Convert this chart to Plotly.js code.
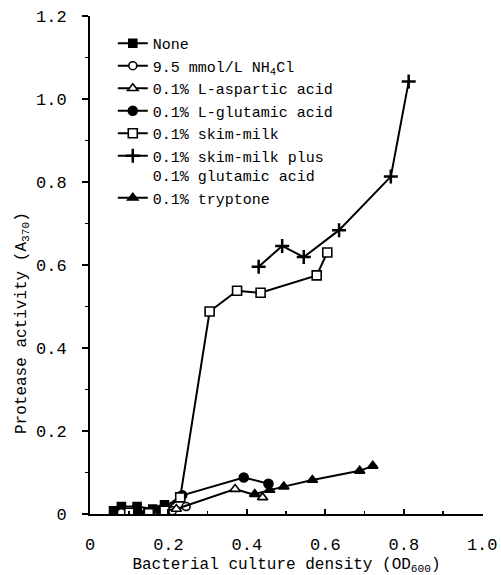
<!DOCTYPE html>
<html>
<head>
<meta charset="utf-8">
<script src="https://cdn.plot.ly/plotly-3.0.1.min.js"></script>
<style>html,body{margin:0;padding:0;background:#fff;}</style>
</head>
<body>
<div id="chart" style="width:501px;height:575px;"></div>
<script>
// Series names
const seriesNames = [
  "None",
  "9.5 mmol/L NH<sub>4</sub>Cl",
  "0.1% L-aspartic acid",
  "0.1% L-glutamic acid",
  "0.1% skim-milk",
  "0.1% skim-milk plus<br>0.1% glutamic acid",
  "0.1% tryptone"
];

// Data
const noneX = [0.06, 0.08, 0.12, 0.16, 0.19];
const noneY = [0.008, 0.018, 0.018, 0.012, 0.022];

const nh4clX = [0.08, 0.12, 0.15, 0.21, 0.245];
const nh4clY = [0.003, 0.002, 0.004, 0.008, 0.018];

const aspX = [0.10, 0.14, 0.22, 0.37, 0.44];
const aspY = [0.002, 0.003, 0.012, 0.060, 0.040];

const gluX = [0.12, 0.18, 0.235, 0.392, 0.455];
const gluY = [0.005, 0.010, 0.045, 0.088, 0.073];

const skimX = [0.10, 0.15, 0.19, 0.23, 0.305, 0.375, 0.435, 0.578, 0.605];
const skimY = [0.003, 0.002, 0.008, 0.040, 0.488, 0.538, 0.533, 0.575, 0.630];

const skimGluX = [0.43, 0.49, 0.545, 0.635, 0.767, 0.8125];
const skimGluY = [0.596, 0.646, 0.619, 0.684, 0.813, 1.042];

const tryX = [0.42, 0.458, 0.494, 0.567, 0.6875, 0.721];
const tryY = [0.048, 0.058, 0.066, 0.082, 0.104, 0.116];

const xTickVals = [0, 0.2, 0.4, 0.6, 0.8, 1.0];
const xTickText = ["0", "0.2", "0.4", "0.6", "0.8", "1.0"];
const yTickVals = [0, 0.2, 0.4, 0.6, 0.8, 1.0, 1.2];
const yTickText = ["0", "0.2", "0.4", "0.6", "0.8", "1.0", "1.2"];

const FONT = "Liberation Mono, DejaVu Sans Mono, monospace";

function tr(x, y, name, symbol, fill, size) {
  return {
    x: x, y: y, name: name, type: "scatter", mode: "lines+markers",
    line: {color: "#000", width: 2},
    marker: {symbol: symbol, size: size || 8, color: fill,
             line: {color: "#000", width: 1.6}}
  };
}

const traces = [
  tr(noneX, noneY, seriesNames[0], "square", "#000", 8),
  tr(nh4clX, nh4clY, seriesNames[1], "circle", "#fff", 8),
  tr(aspX, aspY, seriesNames[2], "triangle-up", "#fff", 9),
  tr(gluX, gluY, seriesNames[3], "circle", "#000", 9),
  tr(skimX, skimY, seriesNames[4], "square", "#fff", 9),
  tr(skimGluX, skimGluY, seriesNames[5], "cross-thin-open", "#000", 10),
  tr(tryX, tryY, seriesNames[6], "triangle-up", "#000", 9)
];
traces[5].marker.line.width = 2.5;

const layout = {
  width: 501, height: 575,
  margin: {l: 90, r: 18, t: 16, b: 61},
  paper_bgcolor: "#fff", plot_bgcolor: "#fff",
  font: {family: FONT, color: "#000", size: 16},
  showlegend: true,
  legend: {
    x: 0.058, y: 0.978, xanchor: "left", yanchor: "top",
    bgcolor: "rgba(0,0,0,0)", borderwidth: 0,
    font: {family: FONT, size: 15, color: "#000"},
    valign: "top", itemwidth: 30
  },
  xaxis: {
    range: [0, 1.002], showgrid: false, zeroline: false,
    showline: true, linecolor: "#000", linewidth: 2,
    tickmode: "array", tickvals: xTickVals, ticktext: xTickText,
    ticks: "inside", ticklen: 5, tickwidth: 2, tickcolor: "#000",
    minor: {tickmode: "linear", dtick: 0.1, ticks: "inside", ticklen: 3, tickwidth: 1.5, tickcolor: "#000"},
    tickfont: {family: FONT, size: 17},
    ticklabelstandoff: 14,
    ticklabeloverflow: "allow",
    title: {text: "Bacterial culture density (OD<sub>600</sub>)", font: {family: FONT, size: 16}, standoff: 6}
  },
  yaxis: {
    range: [0, 1.2], showgrid: false, zeroline: false,
    showline: true, linecolor: "#000", linewidth: 2,
    tickmode: "array", tickvals: yTickVals, ticktext: yTickText,
    ticks: "outside", ticklen: 6, tickwidth: 2, tickcolor: "#000",
    minor: {tickmode: "linear", dtick: 0.1, ticks: "outside", ticklen: 3, tickwidth: 1.5, tickcolor: "#000"},
    tickfont: {family: FONT, size: 17},
    ticklabelstandoff: 12,
    ticklabeloverflow: "allow"
  },
  annotations: [{
    text: "Protease activity (A<sub>370</sub>)",
    xref: "paper", yref: "paper", x: -0.173, y: 0.3835,
    xanchor: "center", yanchor: "middle", textangle: -90,
    showarrow: false, font: {family: FONT, size: 16, color: "#000"}
  }]
};

Plotly.newPlot("chart", traces, layout, {displayModeBar: false, staticPlot: true});
</script>
</body>
</html>
